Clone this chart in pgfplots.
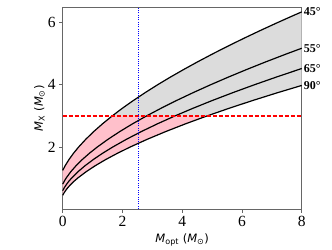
\documentclass[border=0pt]{standalone}
\usepackage{pgfplots}
\pgfplotsset{compat=1.18}
\usepgfplotslibrary{fillbetween}
\usetikzlibrary{calc}
\usepackage{fontspec}
\setmainfont{Liberation Serif}
\newfontfamily\dejavu{DejaVu Sans}
\definecolor{fillgray}{HTML}{DCDCDC}
\definecolor{fillpink}{HTML}{FFC0CB}
\definecolor{lred}{HTML}{FF0000}
\definecolor{lblue}{HTML}{0000FF}
\begin{document}
\begin{tikzpicture}
\begin{axis}[
  scale only axis,
  width=239pt, height=201.7pt,
  xmin=0, xmax=8, ymin=0, ymax=6.5,
  xtick={0,2,4,6,8}, ytick={2,4,6},
  tick align=outside, major tick length=3.5pt,
  axis line style={black!60, line width=0.8pt},
  tick style={black!60, line width=0.8pt},
  xtick pos=bottom, ytick pos=left,
  /pgf/number format/assume math mode=true,
  xticklabel style={font=\fontsize{15.5}{18}\selectfont},
  yticklabel style={font=\fontsize{15.5}{18}\selectfont},
  clip=false,
  xlabel={\dejavu\fontsize{11.5}{13}\selectfont\textit{M}\textsubscript{opt} (\textit{M}\textsubscript{⊙})},
  ylabel={\dejavu\fontsize{11.5}{13}\selectfont\textit{M}\textsubscript{X} (\textit{M}\textsubscript{⊙})},
  xlabel style={at={(axis description cs:0.5,-0.167)}, anchor=base, inner sep=0pt},
  ylabel style={at={(axis description cs:-0.074,0.5)}, anchor=south, inner sep=0pt, rotate=0},
]
\addplot[name path=c45, draw=black, line width=1.2pt] table {
x y
0 1.2445
0.0849 1.4
0.2142 1.6
0.3648 1.8
0.5354 2.0
0.7754 2.25
1.0433 2.5
1.3379 2.75
1.6578 3.0
2.0020 3.25
2.3696 3.5
2.7595 3.75
3.1712 4.0
3.6039 4.25
4.0570 4.5
4.5299 4.75
5.0221 5.0
5.5330 5.25
6.0624 5.5
6.6096 5.75
7.1743 6.0
7.7563 6.25
8.0 6.352
} node[pos=1, anchor=west, inner sep=1.5pt, font=\bfseries\fontsize{12}{14}\selectfont] {45°};
\addplot[name path=c55, draw=black, line width=1.2pt] table {
x y
0 0.8005
0.0543 0.9
0.1177 1.0
0.2692 1.2
0.4514 1.4
0.6621 1.6
0.8992 1.8
1.1613 2.0
1.5222 2.25
1.9181 2.5
2.3471 2.75
2.8077 3.0
3.2986 3.25
3.8185 3.5
4.3665 3.75
4.9415 4.0
5.5427 4.25
6.1694 4.5
6.8208 4.75
7.4962 5.0
8.0 5.180
} node[pos=1, anchor=west, inner sep=1.5pt, font=\bfseries\fontsize{12}{14}\selectfont] {55°};
\addplot[name path=c65, draw=black, line width=1.2pt] table {
x y
0 0.5911
0.0045 0.6
0.0618 0.7
0.1307 0.8
0.2106 0.9
0.3007 1.0
0.5098 1.2
0.7547 1.4
1.0325 1.6
1.3412 1.8
1.6790 2.0
2.1400 2.25
2.6416 2.5
3.1818 2.75
3.7588 3.0
4.3710 3.25
5.0171 3.5
5.6957 3.75
6.4058 4.0
7.1465 4.25
7.9167 4.5
8.0 4.526
} node[pos=1, anchor=west, inner sep=1.5pt, font=\bfseries\fontsize{12}{14}\selectfont] {65°};
\addplot[name path=c90, draw=black, line width=1.2pt] table {
x y
0 0.44
0.033 0.5
0.1007 0.6
0.1829 0.7
0.2787 0.8
0.3872 0.9
0.5076 1.0
0.7818 1.2
1.0973 1.4
1.4512 1.6
1.8408 1.8
2.2641 2.0
2.8381 2.25
3.4593 2.5
4.1252 2.75
4.8337 3.0
5.5831 3.25
6.3716 3.5
7.1980 3.75
8.0 3.982
} node[pos=1, anchor=west, inner sep=1.5pt, font=\bfseries\fontsize{12}{14}\selectfont] {90°};
\addplot[fill=fillgray, draw=none] fill between[of=c45 and c90];
\addplot[fill=fillpink, draw=none] fill between[of=c45 and c90, soft clip={(axis cs:0,0) rectangle (axis cs:8,3)}];
\addplot[color=lred, line width=1.4pt, dash pattern=on 4pt off 2pt] coordinates {(0,3) (8,3)};
\addplot[color=lblue, line width=0.8pt, dash pattern=on 1pt off 1.3pt] coordinates {(2.55,0) (2.55,6.5)};
\end{axis}
\pgfresetboundingbox
\path ($(current axis.south west)+(-62.7pt,-40pt)$) rectangle ($(current axis.north east)+(30.3pt,7.3pt)$);
\end{tikzpicture}
\end{document}
